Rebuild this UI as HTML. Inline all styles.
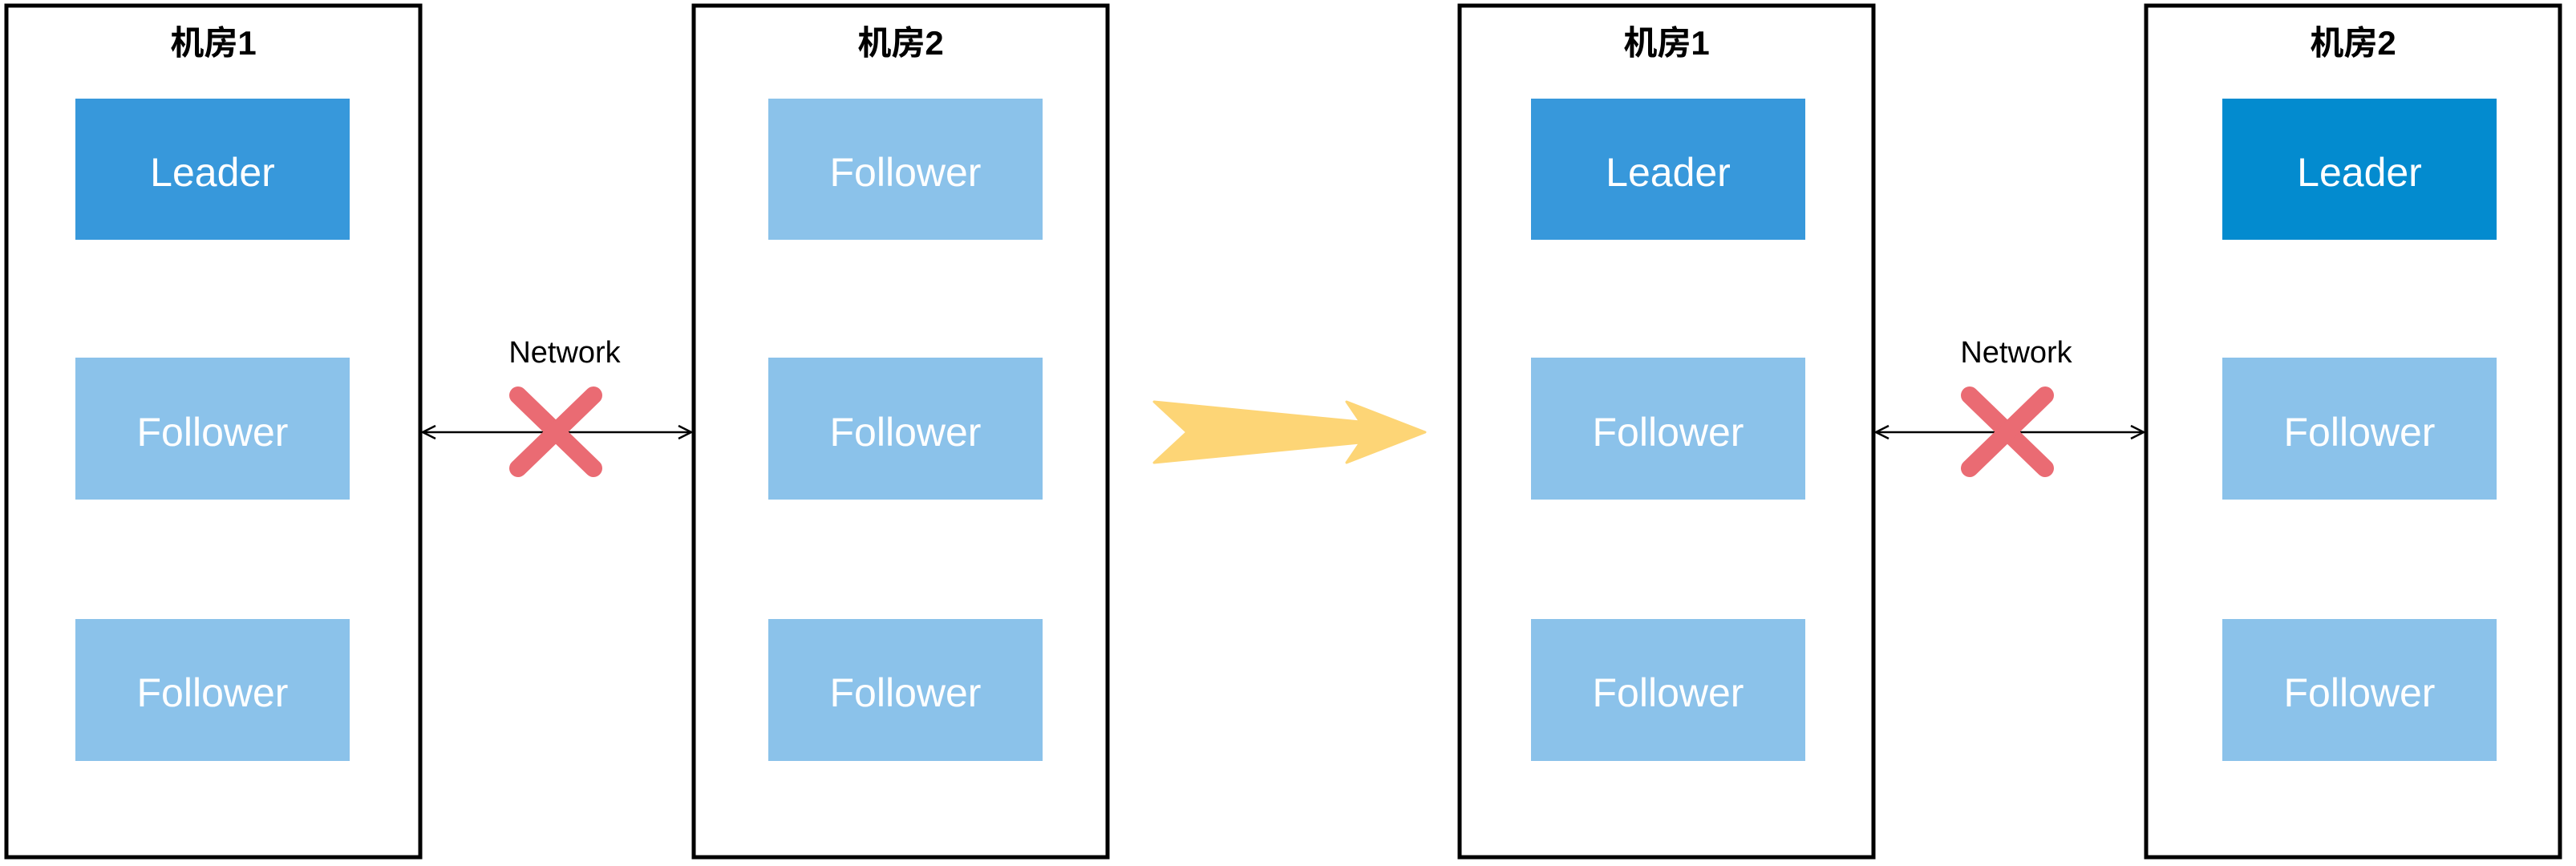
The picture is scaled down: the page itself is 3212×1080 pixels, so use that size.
<!DOCTYPE html>
<html><head><meta charset="utf-8"><style>
body{margin:0;background:#fff;width:3212px;height:1075px;overflow:hidden}
svg text{font-family:"Liberation Sans","Noto Sans CJK SC",sans-serif}
</style></head><body>
<svg width="3212" height="1075" viewBox="0 0 3212 1075" xmlns="http://www.w3.org/2000/svg">
<defs>
<marker id="a" markerWidth="20" markerHeight="20" refX="18" refY="10" orient="auto-start-reverse" markerUnits="userSpaceOnUse">
<path d="M2,2 L18,10 L2,18" fill="none" stroke="#000" stroke-width="2.5"/>
</marker>
</defs>
<g fill="none" stroke="#000" stroke-width="5">
<rect x="8" y="7" width="516" height="1062"/>
<rect x="865" y="7" width="516" height="1062"/>
<rect x="1820" y="7" width="516" height="1062"/>
<rect x="2676" y="7" width="516" height="1062"/>
</g>
<g font-size="42" font-weight="bold" text-anchor="middle" fill="#000">
<text x="266" y="68">机房1</text>
<text x="1123" y="68">机房2</text>
<text x="2078" y="68">机房1</text>
<text x="2934" y="68">机房2</text>
</g>
<g>
<rect x="94" y="123" width="342" height="176" fill="#3798DB"/>
<rect x="94" y="446" width="342" height="177" fill="#8BC2EA"/>
<rect x="94" y="772" width="342" height="177" fill="#8BC2EA"/>
<rect x="958" y="123" width="342" height="176" fill="#8BC2EA"/>
<rect x="958" y="446" width="342" height="177" fill="#8BC2EA"/>
<rect x="958" y="772" width="342" height="177" fill="#8BC2EA"/>
<rect x="1909" y="123" width="342" height="176" fill="#3798DB"/>
<rect x="1909" y="446" width="342" height="177" fill="#8BC2EA"/>
<rect x="1909" y="772" width="342" height="177" fill="#8BC2EA"/>
<rect x="2771" y="123" width="342" height="176" fill="#038BCF"/>
<rect x="2771" y="446" width="342" height="177" fill="#8BC2EA"/>
<rect x="2771" y="772" width="342" height="177" fill="#8BC2EA"/>
</g>
<g font-size="50" fill="#fff" text-anchor="middle">
<text x="265" y="232">Leader</text>
<text x="265" y="556">Follower</text>
<text x="265" y="881">Follower</text>
<text x="1129" y="232">Follower</text>
<text x="1129" y="556">Follower</text>
<text x="1129" y="881">Follower</text>
<text x="2080" y="232">Leader</text>
<text x="2080" y="556">Follower</text>
<text x="2080" y="881">Follower</text>
<text x="2942" y="232">Leader</text>
<text x="2942" y="556">Follower</text>
<text x="2942" y="881">Follower</text>
</g>
<g stroke="#000" stroke-width="2.5" fill="none">
<line x1="527" y1="539" x2="862" y2="539" marker-start="url(#a)" marker-end="url(#a)"/>
<line x1="2339" y1="539" x2="2673" y2="539" marker-start="url(#a)" marker-end="url(#a)"/>
</g>
<g font-size="38" fill="#000" text-anchor="middle">
<text x="704" y="452">Network</text>
<text x="2514" y="452">Network</text>
</g>
<g stroke="#EA6B73" stroke-width="22" stroke-linecap="round">
<line x1="646" y1="493" x2="740" y2="584"/><line x1="740" y1="493" x2="646" y2="584"/>
<line x1="2456" y1="493" x2="2550" y2="584"/><line x1="2550" y1="493" x2="2456" y2="584"/>
</g>
<polygon points="1439,501 1696,526 1679,501 1777,539 1679,577 1696,552 1439,577 1480,539" fill="#FDD576" stroke="#FDD576" stroke-width="3" stroke-linejoin="round"/>
</svg>
</body></html>
